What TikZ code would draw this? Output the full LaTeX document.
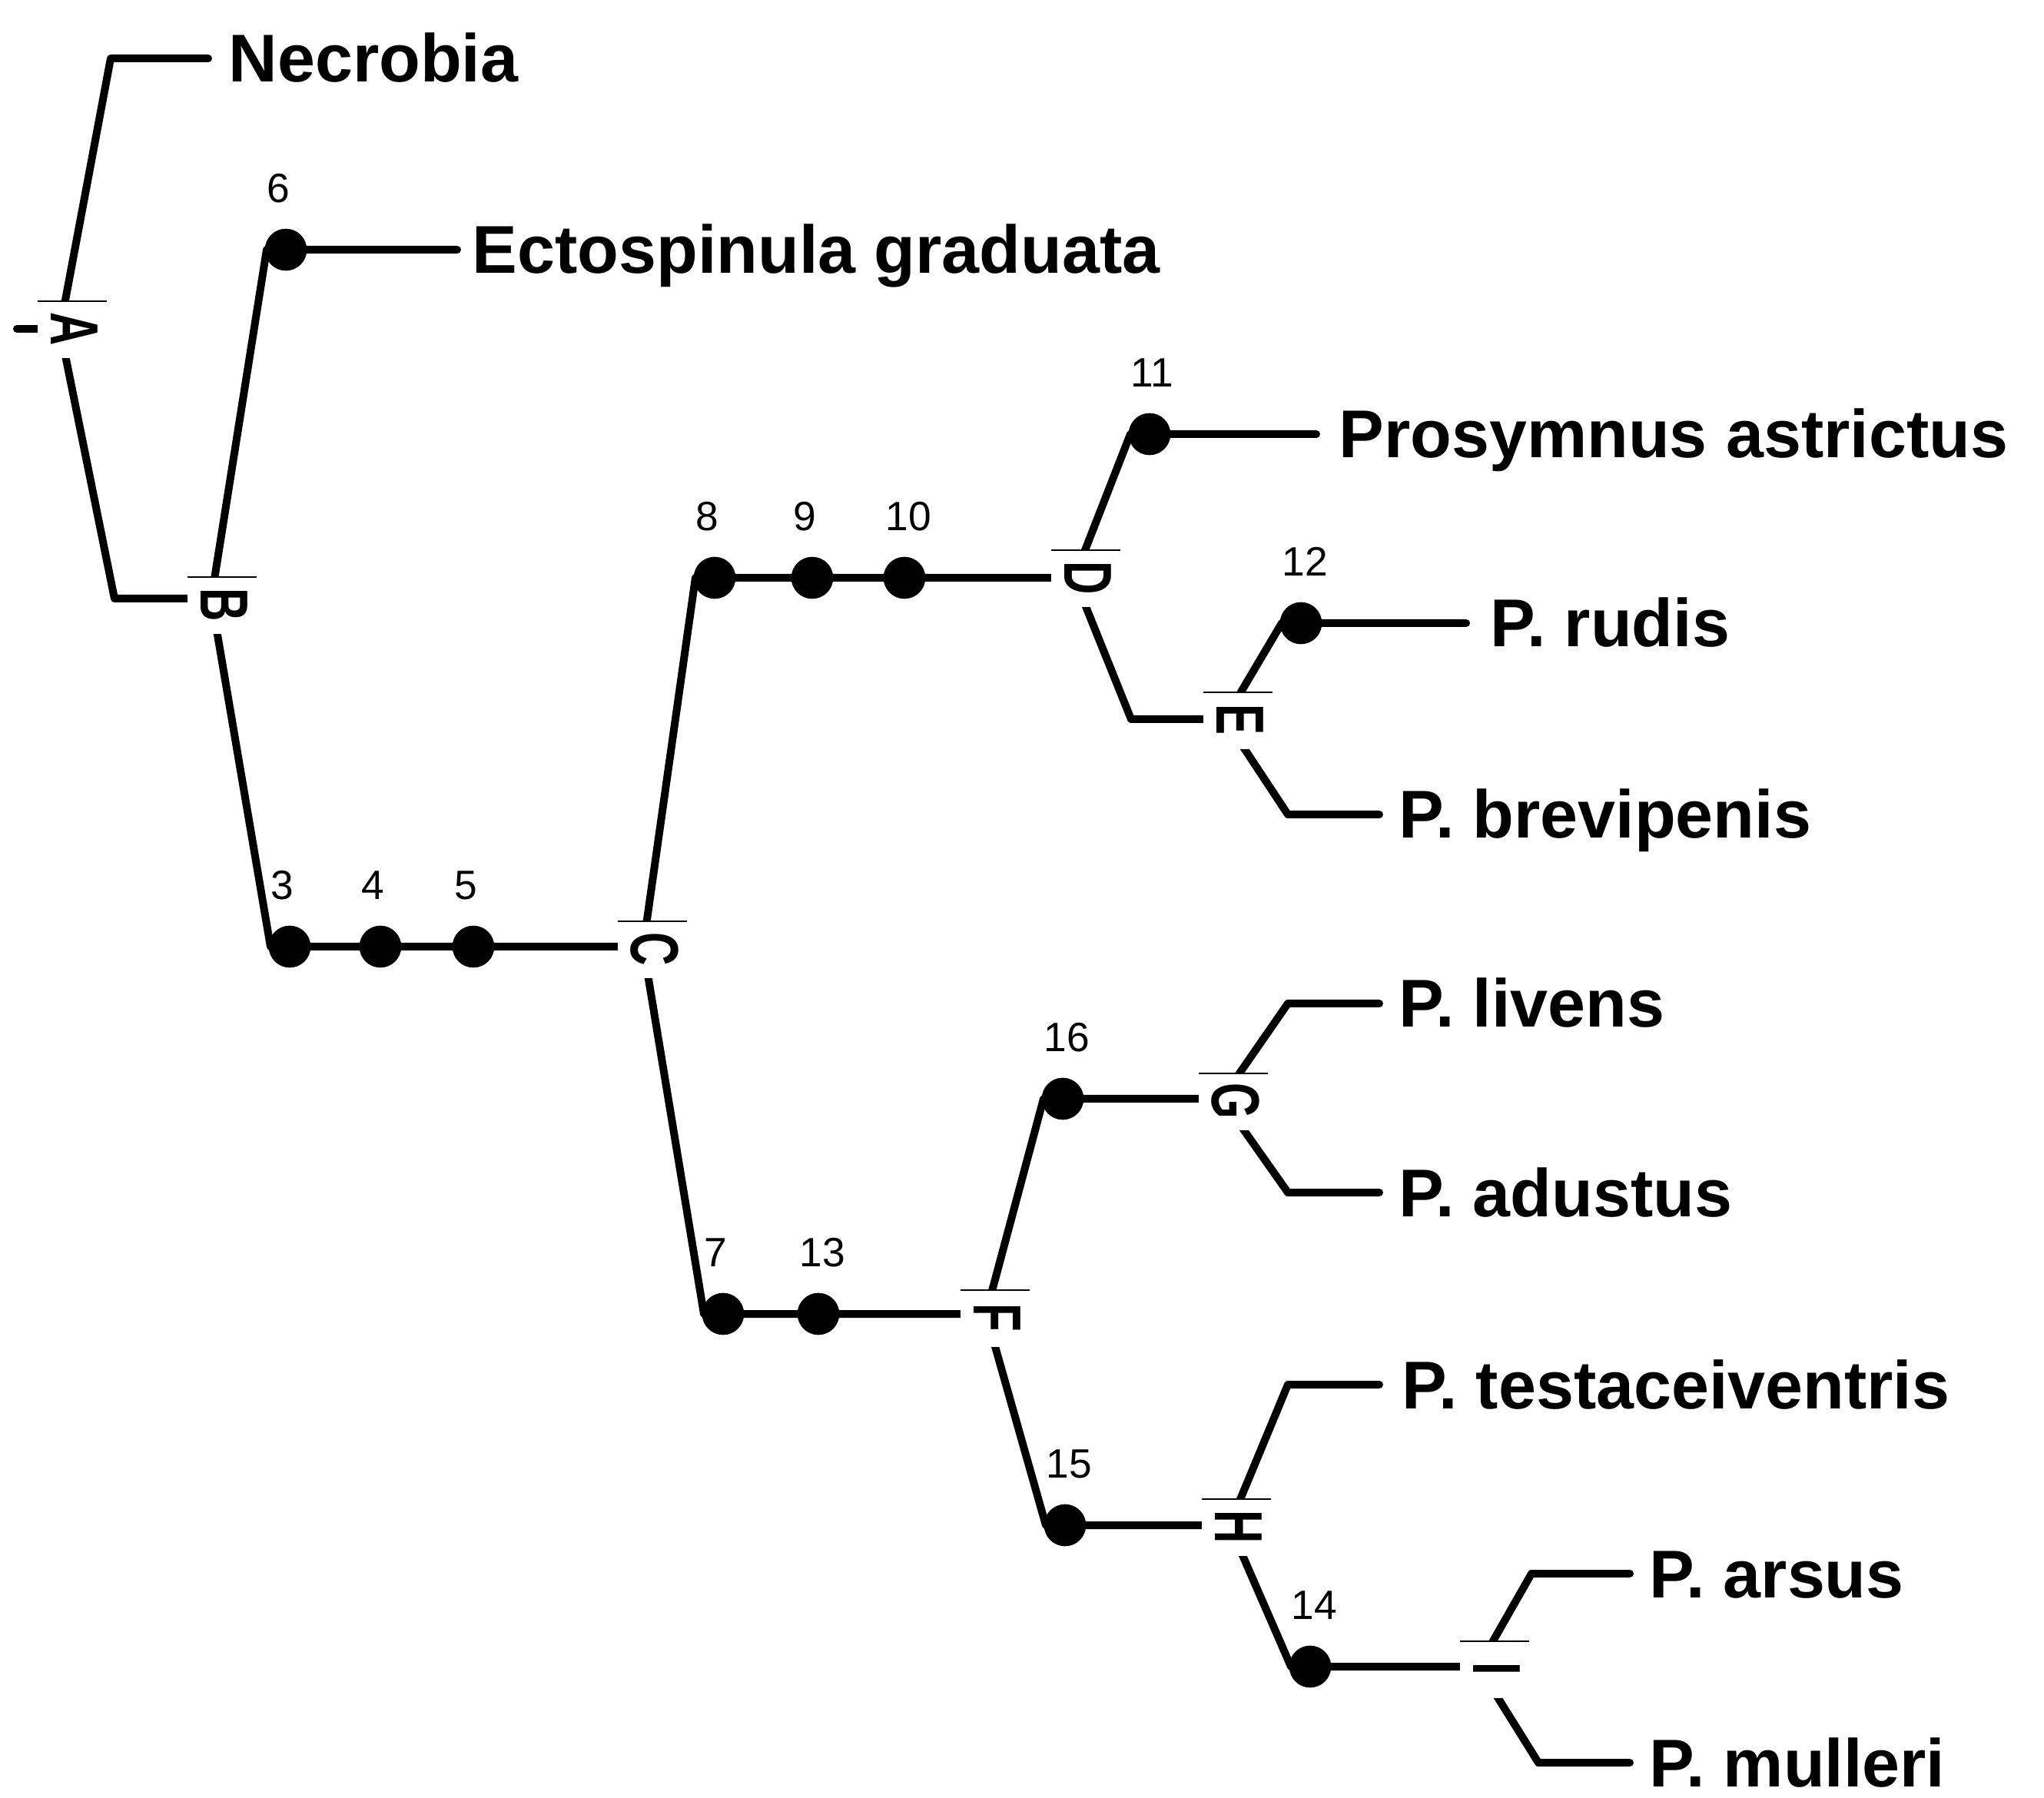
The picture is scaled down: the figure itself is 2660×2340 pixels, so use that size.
\documentclass[tikz,border=0pt]{standalone}
\usepackage{fontspec}
\setmainfont{Liberation Sans}
\usetikzlibrary{calc}
\newcommand\intlab[3]{%
  \fill[white] ($(#1)+(-48,-36)$) rectangle ($(#1)+(42,38)$);
  \draw[thinline] ($(#1)+(-48,-36)$) -- ($(#1)+(42,-36)$);
  \node[letter] (#2) at (#1) {\scalebox{0.68}[1]{#3}};
}
\begin{document}
\begin{tikzpicture}[x=0.3pt,y=-0.3pt,
  branch/.style={line width=3pt, line join=round, line cap=round},
  dot/.style={circle, fill=black, inner sep=0pt, minimum size=16.4pt},
  leaf/.style={anchor=base west, inner sep=0pt, font=\fontsize{26.4}{30}\selectfont\bfseries},
  num/.style={anchor=west, inner sep=0pt, font=\fontsize{16}{18}\selectfont},
  letter/.style={rotate=-90, inner sep=0pt, font=\fontsize{26.5}{28}\selectfont\bfseries},
  thinline/.style={line width=0.7pt}]
\fill[white] (0,0) rectangle (2660,2340);
\useasboundingbox (0,0) rectangle (2660,2340);

% branch points
\coordinate (A) at (78,428);
\coordinate (B) at (275,779);
\coordinate (C) at (837,1232);
\coordinate (D) at (1398,752);
\coordinate (E) at (1594,936);
\coordinate (F) at (1283,1710);
\coordinate (G) at (1590,1430);
\coordinate (H) at (1600,1985);
\coordinate (I) at (1924,2169);
% label centres
\coordinate (LA) at (97,428);
\coordinate (LB) at (292,787);
\coordinate (LC) at (852,1235);
\coordinate (LD) at (1416,752);
\coordinate (LE) at (1614,937);
\coordinate (LF) at (1298,1715);
\coordinate (LG) at (1608,1433);
\coordinate (LH) at (1612,1987);
\coordinate (LI) at (1948,2172);

% corners and free ends
\coordinate (root) at (22,428);
\coordinate (kNec) at (144,76);   \coordinate (eNec) at (271,76);
\coordinate (kAB) at (149,779);
\coordinate (k6) at (347,325);    \coordinate (e6) at (595,325);
\coordinate (k3) at (352,1232);
\coordinate (k8) at (905,752);
\coordinate (k11) at (1471,565);  \coordinate (e11) at (1713,565);
\coordinate (kDE) at (1472,936);
\coordinate (k12) at (1668,811);  \coordinate (e12) at (1908,811);
\coordinate (kBre) at (1676,1060); \coordinate (eBre) at (1795,1060);
\coordinate (k7) at (916,1710);
\coordinate (k16) at (1358,1430);
\coordinate (kLiv) at (1676,1306); \coordinate (eLiv) at (1795,1306);
\coordinate (kAdu) at (1676,1552); \coordinate (eAdu) at (1795,1552);
\coordinate (k15) at (1361,1985);
\coordinate (kTes) at (1676,1802); \coordinate (eTes) at (1795,1802);
\coordinate (k14) at (1680,2169);
\coordinate (kArs) at (1993,2048); \coordinate (eArs) at (2121,2048);
\coordinate (kMul) at (2002,2294); \coordinate (eMul) at (2121,2294);

% branches
\draw[branch] (root) -- (A);
\draw[branch] (A) -- (kNec) -- (eNec);
\draw[branch] (A) -- (kAB) -- (B);
\draw[branch] (B) -- (k6) -- (e6);
\draw[branch] (B) -- (k3) -- (C);
\draw[branch] (C) -- (k8) -- (D);
\draw[branch] (D) -- (k11) -- (e11);
\draw[branch] (D) -- (kDE) -- (E);
\draw[branch] (E) -- (k12) -- (e12);
\draw[branch] (E) -- (kBre) -- (eBre);
\draw[branch] (C) -- (k7) -- (F);
\draw[branch] (F) -- (k16) -- (G);
\draw[branch] (G) -- (kLiv) -- (eLiv);
\draw[branch] (G) -- (kAdu) -- (eAdu);
\draw[branch] (F) -- (k15) -- (H);
\draw[branch] (H) -- (kTes) -- (eTes);
\draw[branch] (H) -- (k14) -- (I);
\draw[branch] (I) -- (kArs) -- (eArs);
\draw[branch] (I) -- (kMul) -- (eMul);

% character dots
\node[dot] (c6) at (372,325) {};
\node[dot] (c3) at (377,1232) {};
\node[dot] (c4) at (495,1232) {};
\node[dot] (c5) at (616,1232) {};
\node[dot] (c8) at (930,752) {};
\node[dot] (c9) at (1057,752) {};
\node[dot] (c10) at (1177,752) {};
\node[dot] (c11) at (1496,565) {};
\node[dot] (c12) at (1693,811) {};
\node[dot] (c7) at (941,1710) {};
\node[dot] (c13) at (1065,1710) {};
\node[dot] (c16) at (1383,1430) {};
\node[dot] (c15) at (1386,1985) {};
\node[dot] (c14) at (1705,2169) {};

\foreach \n in {6,3,4,5,8,9,10,11,12,7,13,16,15,14}{
  \node[num] (n\n) at ($(c\n)+(-25,-80)$) {\n};
}

% internal node labels
\intlab{LA}{lA}{A}
\intlab{LB}{lB}{B}
\intlab{LC}{lC}{C}
\intlab{LD}{lD}{D}
\intlab{LE}{lE}{E}
\intlab{LF}{lF}{F}
\intlab{LG}{lG}{G}
\intlab{LH}{lH}{H}
\intlab{LI}{lI}{I}

% taxa
\node[leaf] (tNec) at (297,107) {Necrobia};
\node[leaf] (tEct) at (614,356) {Ectospinula graduata};
\node[leaf] (tPro) at (1742,596) {Prosymnus astrictus};
\node[leaf] (tRud) at (1939,842) {P. rudis};
\node[leaf] (tBre) at (1820,1091) {P. brevipenis};
\node[leaf] (tLiv) at (1820,1337) {P. livens};
\node[leaf] (tAdu) at (1820,1583) {P. adustus};
\node[leaf] (tTes) at (1824,1833) {P. testaceiventris};
\node[leaf] (tArs) at (2146,2079) {P. arsus};
\node[leaf] (tMul) at (2146,2325) {P. mulleri};
\end{tikzpicture}
\end{document}
